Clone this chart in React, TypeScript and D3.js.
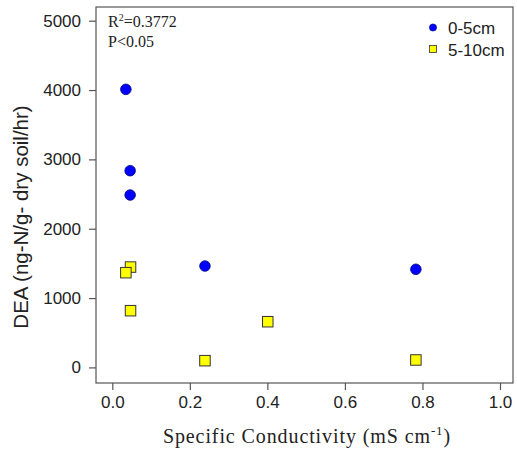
import React, { useEffect, useRef } from 'react';
import * as d3 from 'd3';

// Specific conductivity (mS cm-1) vs DEA (ng-N/g dry soil/hr)
const shallowX = [0.035, 0.046, 0.046, 0.239, 0.783];
const shallowY = [4010, 2837, 2486, 1462, 1415];
const deepX = [0.047, 0.035, 0.047, 0.239, 0.401, 0.783];
const deepY = [1447, 1366, 818, 97, 659, 107];
const xTicks = [0, 0.2, 0.4, 0.6, 0.8, 1.0];
const yTicks = [0, 1000, 2000, 3000, 4000, 5000];

const App = () => {
  const svgRef = useRef<SVGSVGElement>(null);

  useEffect(() => {
    const svg = d3.select(svgRef.current);
    svg.selectAll('*').remove();

    const frame = { left: 96, right: 513, top: 7, bottom: 383 };
    const xScale = d3.scaleLinear().domain([0, 1]).range([112.3, 500]);
    const yScale = d3.scaleLinear().domain([0, 5000]).range([367.4, 20.7]);
    const sans = 'Arial, "Liberation Sans", sans-serif';
    const serif = '"Times New Roman", "Liberation Serif", serif';

    // box around plot
    svg.append('rect')
      .attr('x', frame.left)
      .attr('y', frame.top)
      .attr('width', frame.right - frame.left)
      .attr('height', frame.bottom - frame.top)
      .attr('fill', 'none')
      .attr('stroke', '#555')
      .attr('stroke-width', 1.2);

    // x axis
    const xAxis = svg.append('g')
      .attr('transform', `translate(0, ${frame.bottom})`)
      .call(d3.axisBottom(xScale).tickValues(xTicks).tickFormat(d3.format('.1f')).tickSize(7).tickPadding(6));
    xAxis.select('.domain').remove();
    xAxis.selectAll('line').attr('stroke', '#555').attr('stroke-width', 1.2);
    xAxis.selectAll('text')
      .attr('font-family', sans)
      .attr('font-size', 17)
      .attr('fill', '#222');

    // y axis
    const yAxis = svg.append('g')
      .attr('transform', `translate(${frame.left}, 0)`)
      .call(d3.axisLeft(yScale).tickValues(yTicks).tickFormat(d3.format('d')).tickSize(7).tickPadding(8));
    yAxis.select('.domain').remove();
    yAxis.selectAll('line').attr('stroke', '#555').attr('stroke-width', 1.2);
    yAxis.selectAll('text')
      .attr('font-family', sans)
      .attr('font-size', 17)
      .attr('fill', '#222');

    // axis titles
    svg.append('text')
      .attr('transform', 'translate(28, 217) rotate(-90)')
      .attr('text-anchor', 'middle')
      .attr('font-family', sans)
      .attr('font-size', 20.5)
      .attr('fill', '#222')
      .text('DEA (ng-N/g- dry soil/hr)');

    const xt = svg.append('text')
      .attr('x', 307)
      .attr('y', 443)
      .attr('text-anchor', 'middle')
      .attr('font-family', serif)
      .attr('font-size', 20)
      .attr('letter-spacing', 0.9)
      .attr('fill', '#222');
    xt.append('tspan').text('Specific Conductivity  (mS cm');
    xt.append('tspan').attr('font-size', 13).attr('dy', -8).text('-1');
    xt.append('tspan').attr('dy', 8).text(')');

    // stats annotation
    const r2 = svg.append('text')
      .attr('x', 108)
      .attr('y', 27)
      .attr('font-family', serif)
      .attr('font-size', 16)
      .attr('fill', '#222');
    r2.append('tspan').text('R');
    r2.append('tspan').attr('font-size', 10).attr('dy', -6).text('2');
    r2.append('tspan').attr('dy', 6).text('=0.3772');
    svg.append('text')
      .attr('x', 108)
      .attr('y', 47)
      .attr('font-family', serif)
      .attr('font-size', 16)
      .attr('fill', '#222')
      .text('P<0.05');

    // 5-10cm squares
    const sq = 10.5;
    svg.selectAll('rect.deep')
      .data(deepX.map((x, i) => ({ x, y: deepY[i] })))
      .enter()
      .append('rect')
      .attr('class', 'deep')
      .attr('x', d => xScale(d.x) - sq / 2)
      .attr('y', d => yScale(d.y) - sq / 2)
      .attr('width', sq)
      .attr('height', sq)
      .attr('fill', '#ffff00')
      .attr('stroke', '#333')
      .attr('stroke-width', 1);

    // 0-5cm circles
    svg.selectAll('circle.shallow')
      .data(shallowX.map((x, i) => ({ x, y: shallowY[i] })))
      .enter()
      .append('circle')
      .attr('class', 'shallow')
      .attr('cx', d => xScale(d.x))
      .attr('cy', d => yScale(d.y))
      .attr('r', 5.3)
      .attr('fill', '#0000ff')
      .attr('stroke', '#000080')
      .attr('stroke-width', 0.8);

    // legend
    const legend = svg.append('g');
    legend.append('circle')
      .attr('cx', 433)
      .attr('cy', 27.5)
      .attr('r', 3.6)
      .attr('fill', '#0000ff')
      .attr('stroke', '#000080')
      .attr('stroke-width', 0.6);
    legend.append('rect')
      .attr('x', 429.5)
      .attr('y', 45.5)
      .attr('width', 7)
      .attr('height', 7)
      .attr('fill', '#ffff00')
      .attr('stroke', '#333')
      .attr('stroke-width', 0.8);
    legend.append('text')
      .attr('x', 448)
      .attr('y', 34)
      .attr('font-family', sans)
      .attr('font-size', 17)
      .attr('fill', '#222')
      .text('0-5cm');
    legend.append('text')
      .attr('x', 448)
      .attr('y', 55.5)
      .attr('font-family', sans)
      .attr('font-size', 17)
      .attr('fill', '#222')
      .text('5-10cm');
  }, []);

  return (
    <svg
      ref={svgRef}
      width={517}
      height={450}
      style={{ position: 'absolute', left: 0, top: 0, background: '#fff' }}
    ></svg>
  );
};

export default App;
